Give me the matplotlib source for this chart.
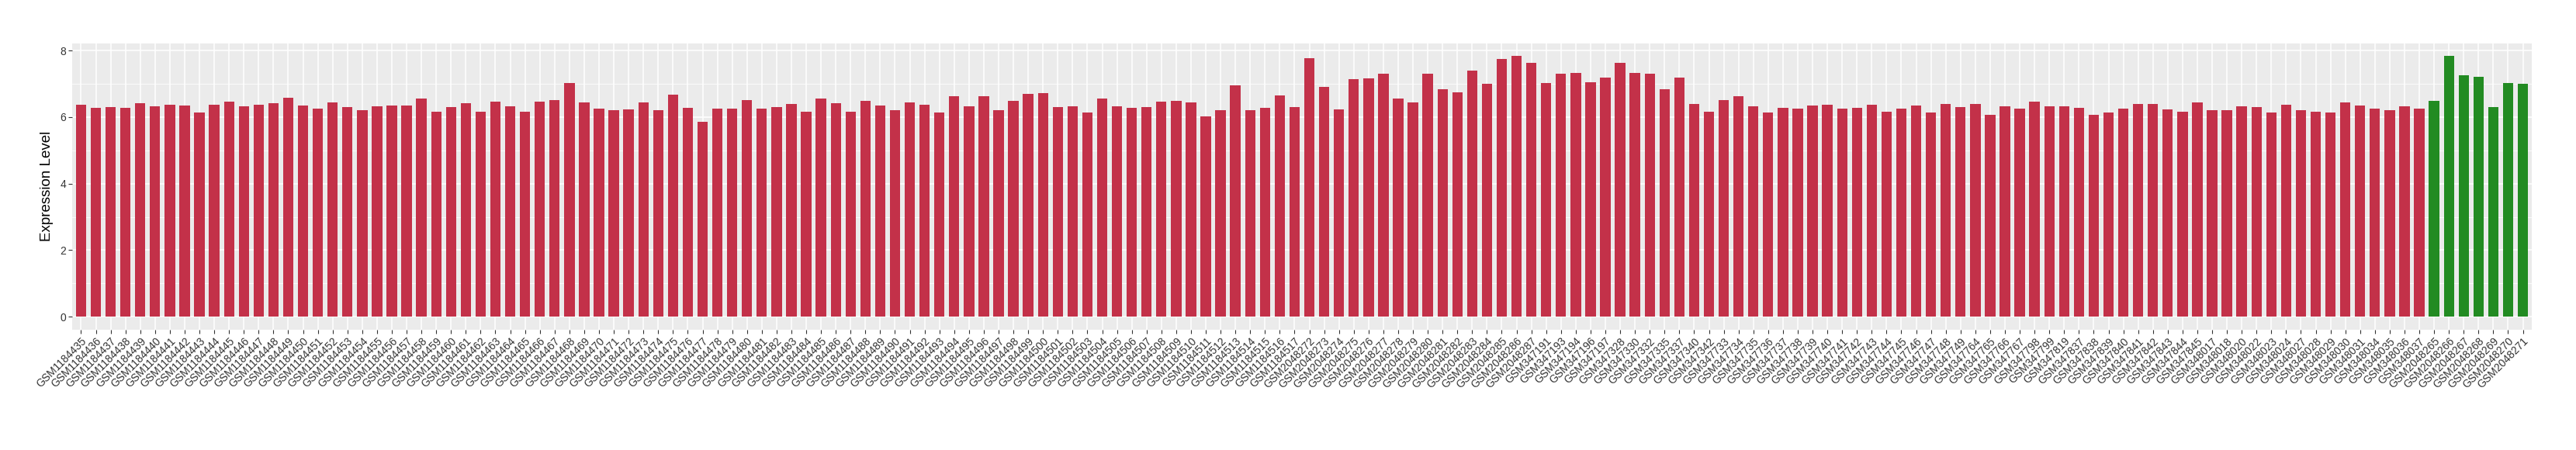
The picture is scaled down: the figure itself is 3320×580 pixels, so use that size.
"""
Expression level per sample, bar chart in ggplot-like style.
"""
import matplotlib
matplotlib.use("Agg")
import matplotlib.pyplot as plt, numpy as np

plt.rcParams["font.family"] = ["Liberation Sans", "DejaVu Sans"]

# sample ids, in the order they appear
ids_a = ["GSM%d" % n for n in range(1184435, 1184518)]
ids_b = ["GSM%d" % n for n in range(2048272, 2048288)]
ids_c = ["GSM347191", "GSM347193", "GSM347194", "GSM347196", "GSM347197",
         "GSM347328", "GSM347330", "GSM347332", "GSM347335", "GSM347337",
         "GSM347340", "GSM347342"]
ids_d = ["GSM%d" % n for n in range(347733, 347750)]
ids_e = ["GSM347764", "GSM347765", "GSM347766", "GSM347767", "GSM347798",
         "GSM347799", "GSM347819", "GSM347837", "GSM347838", "GSM347839",
         "GSM347840", "GSM347841", "GSM347842", "GSM347843", "GSM347844",
         "GSM347845"]
ids_f = ["GSM348017", "GSM348018", "GSM348020", "GSM348022", "GSM348023",
         "GSM348024", "GSM348027", "GSM348028", "GSM348029", "GSM348030",
         "GSM348031", "GSM348034", "GSM348035", "GSM348036", "GSM348037"]
ids_green = ["GSM%d" % n for n in range(2048265, 2048272)]

vals_a = [6.37, 6.28, 6.31, 6.28, 6.41, 6.33, 6.37, 6.35, 6.13, 6.37, 6.46, 6.33, 6.37,
          6.41, 6.59, 6.35, 6.26, 6.44, 6.31, 6.21, 6.33, 6.35, 6.35, 6.57, 6.17, 6.31, 6.41,
          6.17, 6.46, 6.33, 6.17, 6.46, 6.52, 7.03, 6.44, 6.26, 6.20, 6.24, 6.44, 6.21, 6.68,
          6.28, 5.86, 6.26, 6.26, 6.52, 6.26, 6.31, 6.39, 6.17, 6.55, 6.41, 6.17, 6.48,
          6.35, 6.20, 6.44, 6.37, 6.13, 6.62, 6.33, 6.62, 6.21, 6.48, 6.70, 6.72, 6.31, 6.33,
          6.13, 6.55, 6.33, 6.28, 6.31, 6.46, 6.48, 6.44, 6.02, 6.20, 6.96, 6.20, 6.28, 6.65,
          6.31]
vals_b = [7.78, 6.90, 6.24, 7.14, 7.16, 7.30, 6.57, 6.44, 7.30, 6.83, 6.75, 7.39,
          7.01, 7.74, 7.83, 7.63]
vals_c = [7.03, 7.30, 7.32, 7.06, 7.19, 7.63, 7.32, 7.30, 6.83, 7.19, 6.39, 6.17]
vals_d = [6.51, 6.62, 6.33, 6.15, 6.28, 6.26, 6.35, 6.37, 6.26, 6.28, 6.37, 6.17,
          6.26, 6.35, 6.15, 6.39, 6.31]
vals_e = [6.39, 6.06, 6.33, 6.26, 6.46, 6.33, 6.33, 6.28, 6.06, 6.13, 6.26, 6.39,
          6.39, 6.24, 6.17, 6.44]
vals_f = [6.20, 6.20, 6.33, 6.31, 6.15, 6.37, 6.20, 6.17, 6.13, 6.44, 6.35, 6.26,
          6.21, 6.33, 6.26]
vals_green = [6.48, 7.83, 7.25, 7.21, 6.31, 7.03, 7.01]

red = "#C33149"
green = "#228B22"

labels = ids_a + ids_b + ids_c + ids_d + ids_e + ids_f + ids_green
values = vals_a + vals_b + vals_c + vals_d + vals_e + vals_f + vals_green
n_red = len(labels) - len(ids_green)
colors = [red] * n_red + [green] * len(ids_green)

fig = plt.figure(figsize=(33.2, 5.8), dpi=100)
ax = fig.add_axes([93 / 3320, 1 - 425 / 580, (3263 - 93) / 3320, (425 - 55.7) / 580])

pos = np.arange(len(labels))
ax.set_facecolor("#EBEBEB")
ax.set_axisbelow(True)
ax.bar(pos, values, width=0.7, color=colors, zorder=2)

ax.set_xlim(-0.6, len(labels) - 1 + 0.6)
top = max(values)
ax.set_ylim(-0.05 * top, top * 1.05)

ax.set_yticks([0, 2, 4, 6, 8])
ax.set_yticks([1, 3, 5, 7], minor=True)
ax.set_xticks(pos)
ax.set_xticklabels(labels, rotation=45, ha="right", va="top",
                   rotation_mode="anchor", fontsize=10, color="#333333")
ax.tick_params(axis="y", labelsize=10, labelcolor="#333333")
ax.tick_params(which="both", length=3.5, width=0.8, color="#333333", pad=2)
ax.tick_params(which="minor", length=0)

ax.grid(which="major", color="white", linewidth=1.1, zorder=0)
ax.grid(which="minor", axis="y", color="white", linewidth=0.55, zorder=0)

for s in ax.spines.values():
    s.set_visible(False)

ax.set_ylabel("Expression Level", fontsize=13.5, labelpad=6)

fig.savefig("out.png", dpi=100)
